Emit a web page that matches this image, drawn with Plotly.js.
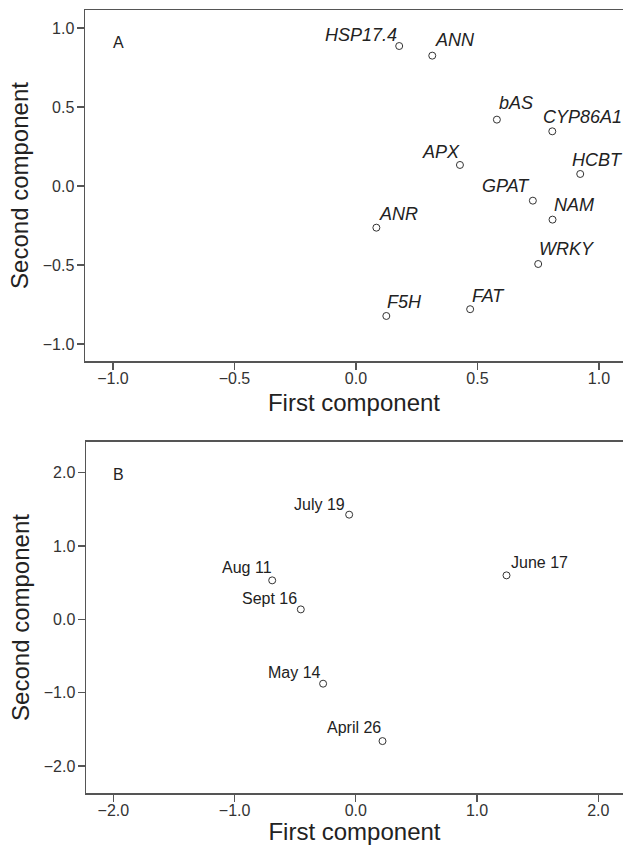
<!DOCTYPE html>
<html>
<head>
<meta charset="utf-8">
<script src="https://cdn.plot.ly/plotly-3.0.1.min.js"></script>
<style>html,body{margin:0;padding:0;background:#fff;}#chart{width:623px;height:845px;}</style>
</head>
<body>
<div id="chart"></div>
<script>
// Panel A: genes
const geneNames = ["HSP17.4","ANN","bAS","CYP86A1","APX","HCBT","GPAT","NAM","ANR","WRKY","FAT","F5H"];
const geneX = [0.178, 0.314, 0.580, 0.808, 0.428, 0.923, 0.728, 0.809, 0.084, 0.750, 0.470, 0.125];
const geneY = [0.886, 0.825, 0.420, 0.346, 0.133, 0.076, -0.093, -0.213, -0.264, -0.494, -0.780, -0.823];

// Panel B: sampling dates
const dateNames = ["July 19","June 17","Aug 11","Sept 16","May 14","April 26"];
const dateX = [-0.055, 1.243, -0.690, -0.454, -0.270, 0.220];
const dateY = [1.428, 0.600, 0.532, 0.136, -0.877, -1.660];

// label placement (styling only): anchor side, x offset px, baseline offset px
const geneAnchor = ["right","left","left","left","right","left","right","left","left","left","left","left"];
const geneDx = [-1, 2, 1, -10, 1, -9, -2, 0, 2, 0, 1, 0];
const geneDy = [-4, -8, -9, -7, -6, -7, -7, -7, -6, -8, -6, -7];
const dateAnchor = ["right","left","right","right","right","right"];
const dateDx = [-3, 3, 1, -3, -1, -1];
const dateDy = [-4, -7, -7, -5, -5, -7];

const font = "Liberation Sans, Arial, Helvetica, sans-serif";
const lineCol = "#555";
const marker = {symbol: "circle-open", size: 7, color: "#333", line: {width: 1, color: "#333"}};

const traces = [
  {x: geneX, y: geneY, text: geneNames, mode: "markers", type: "scatter",
   marker: marker, xaxis: "x", yaxis: "y", hoverinfo: "text"},
  {x: dateX, y: dateY, text: dateNames, mode: "markers", type: "scatter",
   marker: marker, xaxis: "x2", yaxis: "y2", hoverinfo: "text"}
];

function labels(names, xs, ys, anchors, dxs, dys, xref, yref, size, italic) {
  return names.map((t, i) => ({
    text: t, x: xs[i], y: ys[i], xref: xref, yref: yref,
    xanchor: anchors[i], yanchor: "bottom", showarrow: false, borderpad: 0,
    xshift: dxs[i], yshift: -dys[i] - 0.212 * size,
    font: {family: font, size: size, color: "#222", style: italic ? "italic" : "normal"}
  }));
}

function ax(extra) {
  return Object.assign({
    showgrid: false, zeroline: false, showline: true, linecolor: lineCol, linewidth: 1.5,
    ticks: "outside", ticklen: 7, tickwidth: 1.2, tickcolor: lineCol,
    tickfont: {family: font, size: 16, color: "#333"}, tickformat: ".1f"
  }, extra);
}
const titleFont = {family: font, size: 24, color: "#222"};

const layout = {
  width: 623, height: 845,
  margin: {l: 0, r: 0, t: 0, b: 0},
  paper_bgcolor: "#fff", plot_bgcolor: "#fff",
  showlegend: false,
  xaxis: ax({domain: [85/623, 1], range: [-1.115, 1.099], dtick: 0.5, tick0: 0, mirror: true, anchor: "y",
    ticklabelstandoff: -5, title: {text: "First component", font: titleFont, standoff: 8}}),
  yaxis: ax({domain: [1 - 361/845, 1 - 10/845], range: [-1.108, 1.114], dtick: 0.5, tick0: 0, anchor: "x",
    ticklabelstandoff: -1, title: {text: "Second component", font: titleFont, standoff: 7}}),
  xaxis2: ax({domain: [86/623, 1], range: [-2.226, 2.204], dtick: 1, tick0: 0, mirror: true, anchor: "y2",
    ticklabelstandoff: -5, title: {text: "First component", font: titleFont, standoff: 8}}),
  yaxis2: ax({domain: [1 - 793.3/845, 1 - 441.7/845], range: [-2.372, 2.423], dtick: 1, tick0: 0, anchor: "x2",
    ticklabelstandoff: -1, title: {text: "Second component", font: titleFont, standoff: 7}}),
  annotations: [
    {text: "A", x: -1.008, y: 0.907, xref: "x", yref: "y", xanchor: "left", yanchor: "middle", showarrow: false,
     font: {family: font, size: 16, color: "#222"}},
    {text: "B", x: -2.02, y: 1.98, xref: "x2", yref: "y2", xanchor: "left", yanchor: "middle", showarrow: false,
     font: {family: font, size: 16, color: "#222"}}
  ].concat(
    labels(geneNames, geneX, geneY, geneAnchor, geneDx, geneDy, "x", "y", 18, true),
    labels(dateNames, dateX, dateY, dateAnchor, dateDx, dateDy, "x2", "y2", 16, false)
  )
};

Plotly.newPlot("chart", traces, layout, {staticPlot: true, displayModeBar: false});
</script>
</body>
</html>
